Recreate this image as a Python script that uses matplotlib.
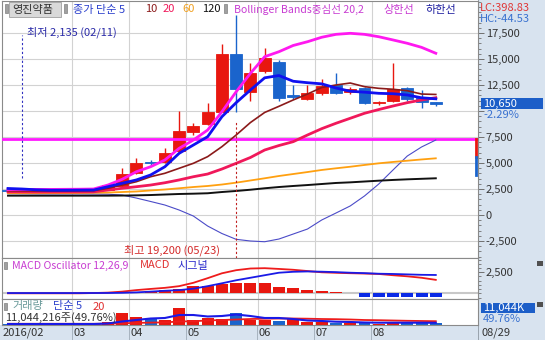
import matplotlib
matplotlib.use('Agg')
import matplotlib.pyplot as plt
from matplotlib.patches import Rectangle
from matplotlib.ticker import FuncFormatter, MultipleLocator

plt.rcParams['font.family'] = ['Noto Sans CJK KR', 'DejaVu Sans']

# ---------------- data (weekly, 2016-02-01 .. 2016-08-29) ----------------
weeks = list(range(31))
opens  = [2450, 2350, 2250, 2350, 2400, 2330, 2400, 2450, 2790, 4040, 5050, 5100, 6150, 7980, 8750, 9900,
          15480, 11830, 13850, 14700, 11540, 11150, 11730, 12500, 11830, 12200, 10770, 10960, 12200, 11350, 10860]
highs  = [2500, 2400, 2400, 2450, 2450, 2450, 2500, 2950, 4520, 5480, 5290, 6440, 10000, 8850, 10770, 16440,
          19200, 14600, 16060, 14900, 12500, 12500, 13100, 13650, 12300, 12300, 11000, 14600, 12300, 12000, 10900]
lows   = [2300, 2135, 2200, 2280, 2300, 2300, 2350, 2400, 2700, 3950, 4710, 5000, 6000, 7700, 8650, 9900,
          9900, 10960, 13700, 10960, 11150, 11100, 11540, 11600, 11600, 10700, 10600, 10900, 11000, 10290, 10500]
closes = [2350, 2250, 2350, 2400, 2330, 2400, 2450, 2850, 3940, 5000, 4980, 5960, 8080, 8560, 9900, 15480,
          12115, 13650, 15100, 11250, 11350, 11730, 12400, 11730, 12100, 10770, 10900, 12100, 11150, 10900, 10650]

ma5   = [2550, 2500, 2420, 2380, 2380, 2390, 2400, 2720, 3050, 3370, 3850, 4640, 5930, 6730, 7530, 9450,
         10800, 12020, 13190, 13410, 12860, 12720, 12610, 12210, 11900, 11810, 11700, 11660, 11540, 11270, 11170]
ma10  = [2330, 2320, 2310, 2300, 2300, 2310, 2330, 2570, 2880, 3200, 3680, 4010, 4490, 4970, 5610, 6570,
         7690, 8890, 9860, 10450, 11060, 11630, 12260, 12500, 12690, 12340, 12180, 12090, 11950, 11630, 11590]
ma20  = [2230, 2220, 2210, 2210, 2215, 2220, 2230, 2400, 2570, 2720, 2880, 3100, 3370, 3680, 3940, 4420,
         4970, 5530, 6250, 6680, 7050, 7690, 8300, 8820, 9300, 9780, 10140, 10480, 10800, 11060, 11280]
ma60  = [2100, 2100, 2100, 2105, 2110, 2120, 2140, 2160, 2210, 2260, 2360, 2450, 2570, 2690, 2790, 2930,
         3110, 3320, 3530, 3750, 3940, 4130, 4330, 4490, 4640, 4810, 4970, 5100, 5220, 5340, 5450]
ma120 = [1860, 1860, 1860, 1860, 1860, 1860, 1860, 1860, 1870, 1890, 1920, 1970, 2020, 2050, 2090, 2210,
         2310, 2430, 2570, 2690, 2790, 2880, 2980, 3080, 3140, 3220, 3300, 3370, 3430, 3480, 3530]
bb_upper = [2450, 2460, 2460, 2460, 2470, 2480, 2500, 2880, 3430, 4160, 4640, 5290, 6410, 7210, 8170, 9930,
            11850, 13620, 15220, 15700, 16300, 16660, 17090, 17370, 17470, 17370, 17140, 16830, 16510, 16120, 15550]
bb_lower = [2050, 2040, 2030, 2030, 2030, 2030, 2020, 2000, 1920, 1630, 1300, 960, 480, -100, -1060, -1780,
            -2340, -2500, -2570, -2310, -1830, -1350, -480, 190, 870, 1830, 2980, 4330, 5670, 6540, 7210]
level_line = 7300

macd   = [0, 0, 0, 0, 0, 0, 30, 80, 200, 380, 520, 650, 850, 1250, 1800, 2380,
          2750, 2950, 2990, 2900, 2800, 2650, 2500, 2440, 2390, 2350, 2300, 2150, 2020, 1850, 1600]
signal = [30, 30, 30, 30, 30, 30, 35, 40, 60, 110, 200, 300, 380, 550, 850, 1190,
          1550, 1850, 2150, 2450, 2560, 2600, 2570, 2520, 2450, 2400, 2330, 2300, 2250, 2200, 2180]
osc    = [0, 0, 0, 0, 0, 0, 0, 20, 60, 120, 300, 420, 540, 830, 880, 1100,
          1200, 1230, 1260, 800, 600, 400, 280, 160, 60, -420, -420, -420, -420, -420, -420]

volume = [4400, 5300, 3500, 3500, 4400, 3500, 4400, 13300, 54400, 36700, 26500, 22100, 76500, 22100, 31000, 26500,
          53100, 22100, 22100, 19000, 26500, 14600, 14600, 10200, 8800, 8800, 6600, 13300, 8800, 8800, 11044]
vol_up = [0, 0, 1, 1, 0, 1, 1, 1, 1, 1, 0, 1, 1, 1, 1, 1, 0, 1, 1, 0, 1, 1, 1, 0, 1, 0, 1, 1, 0, 0, 0]
vol_ma5 = [4400, 4400, 4400, 4400, 4400, 4400, 4400, 6600, 15500, 22100, 28700, 31000, 44200, 44200, 37600, 39800,
           46400, 39800, 31000, 31000, 26500, 19900, 17700, 14600, 13300, 11100, 10200, 10200, 10200, 10200, 9700]
vol_ma20 = [5300, 5300, 5300, 5300, 5300, 5300, 5300, 5700, 7500, 9300, 10600, 11500, 15500, 16800, 19900, 22100,
            24300, 26500, 27900, 28700, 28700, 27900, 26500, 25700, 24300, 22100, 21200, 19900, 18600, 17700, 16800]

month_labels = ['2016/02', '03', '04', '05', '06', '07', '08']
month_bounds = [None, 4.5, 8.5, 12.5, 17.5, 21.5, 25.5]

# ---------------- layout helpers ----------------
W, H = 545, 340
fig = plt.figure(figsize=(W / 100, H / 100), dpi=100)
fig.patch.set_facecolor('white')

X_OFF, X_STEP = 8.0, 14.26
def x_of(px):
    return (px - X_OFF) / X_STEP
XL = (x_of(2), x_of(478))

def add_ax(x0, y0, x1, y1):
    return fig.add_axes([x0 / W, 1 - y1 / H, (x1 - x0) / W, (y1 - y0) / H])

def prect(x0, y0, x1, y1, **kw):
    fig.patches.append(Rectangle((x0 / W, 1 - y1 / H), (x1 - x0) / W, (y1 - y0) / H,
                                 transform=fig.transFigure, **kw))

def ptext(x, y, s, **kw):
    kw.setdefault('va', 'center')
    kw.setdefault('ha', 'left')
    return fig.text(x / W, 1 - y / H, s, **kw)

BG = '#d8e3ef'
GRID = '#d2d2d2'
RED = '#e8170f'
BLUE = '#1a64cc'
prect(478, 0, 545, 340, facecolor=BG, edgecolor='none', zorder=-5)
prect(0, 325, 545, 340, facecolor=BG, edgecolor='none', zorder=-5)

comma = FuncFormatter(lambda v, p: f'{int(round(v)):,}')
comma_main = FuncFormatter(lambda v, p: '' if int(round(v)) == 10000 else f'{int(round(v)):,}')

def style_ax(ax):
    ax.set_xlim(*XL)
    ax.set_facecolor('white')
    for s in ax.spines.values():
        s.set_color('#8a8a8a')
        s.set_linewidth(0.8)
    ax.yaxis.tick_right()
    ax.tick_params(axis='y', which='major', length=4, width=0.7, color='#707070',
                   labelsize=8, labelcolor='#333333', pad=1.5)
    ax.tick_params(axis='y', which='minor', length=2, width=0.6, color='#707070')
    ax.tick_params(axis='x', which='both', bottom=False, labelbottom=False)
    for b in month_bounds[1:]:
        ax.axvline(b, color=GRID, lw=0.8, zorder=0)

# ---------------- main price panel ----------------
ax = add_ax(2, 1, 478, 258)
style_ax(ax)
ax.set_ylim((215 - 258) * 96.15, (215 - 1) * 96.15)
ax.set_yticks(range(-2500, 17501, 2500))
ax.yaxis.set_minor_locator(MultipleLocator(500))
ax.yaxis.set_major_formatter(comma_main)
for v in range(-2500, 17501, 2500):
    ax.axhline(v, color=GRID, lw=0.8, zorder=0)

bw = 0.84
for i in weeks:
    o, h, l, c = opens[i], highs[i], lows[i], closes[i]
    col = RED if c >= o else BLUE
    ax.vlines(i, l, h, color=col, lw=1.0, zorder=2)
    bot, top = min(o, c), max(o, c)
    hgt = max(top - bot, 60)
    ax.add_patch(Rectangle((i - bw / 2, bot), bw, hgt, facecolor=col, edgecolor=col, lw=0.6, zorder=3))

ax.axhline(level_line, color='#ff19ff', lw=2.0, zorder=4)
ax.plot(weeks, bb_lower, color='#4b4bc8', lw=0.8, zorder=4)
ax.plot(weeks, ma120, color='#111111', lw=1.4, zorder=4)
ax.plot(weeks, ma60, color='#ffa010', lw=1.3, zorder=4)
ax.plot(weeks, ma20, color='#f0185a', lw=2.0, zorder=5)
ax.plot(weeks, ma10, color='#8b1a1a', lw=1.2, zorder=5)
ax.plot(weeks, bb_upper, color='#ff19f0', lw=2.0, zorder=5)
ax.plot(weeks, ma5, color='#1010f0', lw=2.0, zorder=6)

# min / max markers
ax.plot([1, 1], [(215 - 178) * 96.15, (215 - 35) * 96.15], color='#3030c0', lw=0.8, ls=(0, (2, 2)), zorder=6)
ax.plot([16, 16], [(215 - 258) * 96.15, (215 - 122) * 96.15], color='#c02020', lw=0.8, ls=(0, (2, 2)), zorder=6)

# right edge marker (level)
ax.plot([0.996, 0.996], [level_line, 5580], transform=ax.get_yaxis_transform(), color=RED, lw=2, zorder=7, clip_on=False)
ax.plot([0.996, 0.996], [5580, 3850], transform=ax.get_yaxis_transform(), color=BLUE, lw=2, zorder=7, clip_on=False)

# ---------------- MACD panel ----------------
am = add_ax(2, 258, 478, 299)
style_ax(am)
am.set_ylim(-(299 - 293.3) * 119, (293.3 - 258) * 119)
am.set_yticks([2500])
am.yaxis.set_minor_locator(MultipleLocator(500))
am.yaxis.set_major_formatter(comma)
am.axhline(0, color='#c8c8c8', lw=1.5, zorder=1)
for i in weeks:
    if osc[i] != 0:
        am.add_patch(Rectangle((i - bw / 2, 0), bw, osc[i], facecolor=RED if osc[i] > 0 else '#0a2ae6',
                               edgecolor='none', zorder=2))
am.plot(weeks, macd, color='#ee1c1c', lw=1.3, zorder=3)
am.plot(weeks, signal, color='#1a1ae6', lw=1.3, zorder=3)

# ---------------- volume panel ----------------
av = add_ax(2, 299, 478, 325)
style_ax(av)
av.set_ylim(0, 26 * 4423)
av.set_yticks([])
for i in weeks:
    av.add_patch(Rectangle((i - bw / 2, 0), bw, volume[i], facecolor=RED if vol_up[i] else BLUE,
                           edgecolor='none', zorder=2))
av.plot(weeks, vol_ma20, color='#ee1c1c', lw=1.3, zorder=3)
av.plot(weeks, vol_ma5, color='#1a1ae6', lw=1.5, zorder=3)

# ---------------- texts ----------------
FS = 8
# header
prect(5, 4, 8, 13, facecolor='#a0a0a0', edgecolor='#808080', lw=0.5, zorder=5)
prect(9, 2, 61, 17, facecolor='#d9d9d9', edgecolor='#a0a0a0', lw=0.6, zorder=5)
ptext(12, 9.5, '영진약품', fontsize=FS, color='#333333', zorder=6)
prect(64, 4, 67, 13, facecolor='#a0a0a0', edgecolor='#808080', lw=0.5, zorder=5)
ptext(73, 9.5, '종가 단순 5', fontsize=FS, color='#2a3fcc')
ptext(145, 9.5, '10', fontsize=FS, color='#8b1a1a')
ptext(163, 9.5, '20', fontsize=FS, color='#f0185a')
ptext(182, 9.5, '60', fontsize=FS, color='#f0a020')
ptext(202, 9.5, '120', fontsize=FS, color='#111111')
prect(224, 4, 227, 13, facecolor='#a0a0a0', edgecolor='#808080', lw=0.5, zorder=5)
ptext(234, 9.5, 'Bollinger Bands중심선 20,2', fontsize=7.6, color='#c83cd2')
ptext(383, 9.5, '상한선', fontsize=FS, color='#c83cd2')
ptext(425, 9.5, '하한선', fontsize=FS, color='#2020a0')
ptext(480, 8, 'LC:398.83', fontsize=FS, color='#e03838')
ptext(480, 19.5, 'HC:-44.53', fontsize=FS, color='#3a72d0')

ptext(27, 32, '최저 2,135 (02/11)', fontsize=FS, color='#2a2aa8')
ptext(124, 250, '최고 19,200 (05/23)', fontsize=FS, color='#d42a2a')

# current price box
prect(481, 98, 543, 109, facecolor='#1c5ec8', edgecolor='none', zorder=5)
ptext(483, 103.5, '10,650', fontsize=FS, color='white', zorder=6)
ptext(483, 115, '-2.29%', fontsize=FS, color='#3a72d0')

# MACD header
prect(4, 262, 7, 269, facecolor='#a0a0a0', edgecolor='#808080', lw=0.5, zorder=5)
ptext(12, 265.5, 'MACD Oscillator 12,26,9', fontsize=7.6, color='#c83cd2')
ptext(140, 265.5, 'MACD', fontsize=FS, color='#e03030')
ptext(178, 265.5, '시그널', fontsize=FS, color='#2a2acc')
prect(537, 261, 543, 266, facecolor='#505050', edgecolor='none', zorder=5)

# volume header
prect(4, 303, 7, 310, facecolor='#a0a0a0', edgecolor='#808080', lw=0.5, zorder=5)
ptext(12, 306.5, '거래량', fontsize=FS, color='#6a9a9a')
ptext(53, 306.5, '단순 5', fontsize=FS, color='#2a3fcc')
ptext(93, 306.5, '20', fontsize=FS, color='#e03030')
ptext(5, 318, '11,044,216주(49.76%)', fontsize=FS, color='#333333', zorder=6)
prect(481, 303, 535, 313, facecolor='#1c5ec8', edgecolor='none', zorder=5)
ptext(483, 308, '11,044K', fontsize=FS, color='white', zorder=6)
ptext(483, 319.5, '49.76%', fontsize=FS, color='#3a72d0')
prect(537, 302, 543, 307, facecolor='#505050', edgecolor='none', zorder=5)

# x-axis row
for lab, b in zip(month_labels, month_bounds):
    if b is None:
        ptext(3, 333, lab, fontsize=FS, color='#333333')
    else:
        px = X_OFF + b * X_STEP
        prect(px - 0.4, 325, px + 0.4, 340, facecolor='#a8b4c0', edgecolor='none', zorder=-4)
        ptext(px + 1, 333, lab, fontsize=FS, color='#333333')
ptext(482, 333, '08/29', fontsize=FS, color='#333333')
prect(478, 0, 478.8, 340, facecolor='#9aa4ae', edgecolor='none', zorder=-4)

fig.savefig('out.png', dpi=100, facecolor='white')
